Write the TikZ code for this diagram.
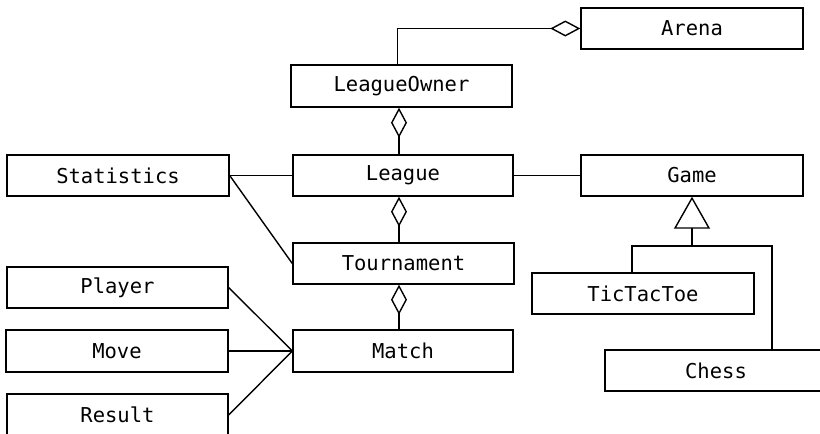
\documentclass[tikz,border=0pt]{standalone}
\usepackage{fontspec}
\setmonofont{DejaVu Sans Mono}
\usetikzlibrary{arrows.meta}
\tikzset{
  cls/.style={draw, line width=1.4pt, rectangle, minimum height=41pt, inner sep=0pt,
    font=\ttfamily\fontsize{20.5}{24}\selectfont, text=black},
  conn/.style={line width=1.4pt},
}
\begin{document}
\begin{tikzpicture}[x=1pt,y=-1pt]
\useasboundingbox (0,0) rectangle (820,434);
\clip (0,0) rectangle (820,434);
\node[cls, minimum width=222pt] (arena) at (692,28.5) {Arena};
\node[cls, minimum width=221pt, minimum height=42pt] (lo) at (401.5,86) {LeagueOwner};
\node[cls, minimum width=222pt] (stats) at (118,175.5) {Statistics};
\node[cls, minimum width=220pt] (league) at (403,175.5) {League};
\node[cls, minimum width=222pt] (game) at (692,175.5) {Game};
\node[cls, minimum width=221pt] (tour) at (403.5,263.5) {Tournament};
\node[cls, minimum width=221pt] (player) at (117.5,287.5) {Player};
\node[cls, minimum width=222pt, minimum height=42pt] (move) at (117,351) {Move};
\node[cls, minimum width=221pt, minimum height=42pt] (result) at (117.5,415) {Result};
\node[cls, minimum width=220pt, minimum height=42pt] (match) at (403,351) {Match};
\node[cls, minimum width=222pt] (ttt) at (643,293.5) {TicTacToe};
\node[cls, minimum width=222pt] (chess) at (716,370.5) {Chess};
\coordinate (xa) at (397.5,28.5);
\coordinate (xd) at (399,0);
\coordinate (gj) at (692,246);
\coordinate (tl) at (632,246);
\coordinate (cr) at (772,246);
% aggregation to Arena
\draw[conn, -{Diamond[open, length=30pt, width=16pt]}] (xa |- lo.north) -- (xa) -- (arena.west);
% aggregations along the league chain
\draw[conn, {Diamond[open, length=30pt, width=16pt]}-] (xd |- lo.south) -- (xd |- league.north);
\draw[conn, {Diamond[open, length=30pt, width=16pt]}-] (xd |- league.south) -- (xd |- tour.north);
\draw[conn, {Diamond[open, length=30pt, width=16pt]}-] (xd |- tour.south) -- (xd |- match.north);
% associations
\draw[conn] (stats.east) -- (league.west);
\draw[conn] (stats.east) -- (tour.west);
\draw[conn] (league.east) -- (game.west);
\draw[conn] (player.east) -- (match.west);
\draw[conn] (move.east) -- (match.west);
\draw[conn] (result.east) -- (match.west);
% generalization
\draw[conn, {Triangle[open, length=32pt, width=36pt]}-] (game.south) -- (gj);
\draw[conn] (tl |- ttt.north) -- (tl) -- (cr) -- (cr |- chess.north);
\end{tikzpicture}
\end{document}
